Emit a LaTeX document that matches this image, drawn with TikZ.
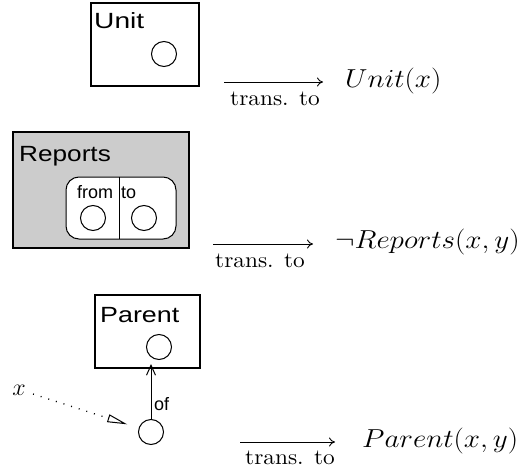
\RequirePackage{fix-cm}
\documentclass[tikz,border=0pt]{standalone}
\usepackage{fontspec}
\usepackage{graphicx}
\usetikzlibrary{arrows.meta,calc}
\newfontfamily\labelfont{Liberation Sans}
\newfontfamily\captionrm{lmroman10-regular}[Extension=.otf]
\newcommand{\biglabel}[2]{\scalebox{#1}[1]{\labelfont\fontsize{22}{26}\selectfont #2}}
\newcommand{\smalllabel}[1]{{\labelfont\fontsize{18}{21}\selectfont #1}}
\newcommand{\formula}[1]{\scalebox{1.12}[1]{\fontsize{26}{30}\selectfont $#1$}}
\newcommand{\transto}{\scalebox{1.06}[1]{\captionrm\fontsize{22}{24}\selectfont trans. to}}
\tikzset{
  entity/.style={draw, line width=1.1pt},
  role/.style={draw, circle, line width=1pt, minimum size=25pt, inner sep=0pt},
  lbl/.style={anchor=base west, inner sep=0pt},
  transarrow/.style={line width=0.9pt, -{To[length=6pt,width=9pt]}},
  translabel/.style={anchor=base west, inner sep=0pt},
}
\begin{document}
\begin{tikzpicture}[x=1pt,y=-1pt]
\useasboundingbox (0,0) rectangle (520,471);

% --- Unit ---
\draw[entity] (91,3) rectangle (199,86);
\node[lbl] (unitlbl) at (94,28) {\biglabel{1.28}{Unit}};
\node[role] (u1) at (164,54) {};
\coordinate (a1s) at (224,82);
\coordinate (a1e) at (323,82);
\draw[transarrow] (a1s) -- (a1e);
\node[translabel] (t1) at (230,105) {\transto};
\node[lbl] (f1) at (345,87) {\formula{Unit(x)}};

% --- Reports ---
\draw[entity, fill=black!20] (13,132) rectangle (189,248);
\node[lbl] (replbl) at (19,161) {\biglabel{1.19}{Reports}};
\draw[line width=1pt, fill=white, rounded corners=13pt] (66,177) rectangle (176,239);
\draw[line width=1pt] (119,177) -- (119,239);
\node[lbl] (fromlbl) at (77,198) {\smalllabel{from}};
\node[lbl] (tolbl) at (121,198) {\smalllabel{to}};
\node[role] (r1) at (93,218) {};
\node[role] (r2) at (144,218) {};
\coordinate (a2s) at (213,244);
\coordinate (a2e) at (313,244);
\draw[transarrow] (a2s) -- (a2e);
\node[translabel] (t2) at (215,267) {\transto};
\node[lbl] (f2) at (335,248) {\formula{\neg Reports(x,y)}};

% --- Parent ---
\draw[entity] (95,295) rectangle (200,368);
\coordinate (pbottom) at (151,368);
\node[lbl] (parlbl) at (100,322) {\biglabel{1.22}{Parent}};
\node[role] (p1) at (159,347) {};
\node[role] (p2) at (151,432) {};
\draw[line width=1pt, -{Straight Barb[length=10pt,width=9pt]}] (p2) -- ([yshift=4pt]pbottom);
\node[lbl] (oflbl) at (154,410) {\smalllabel{of}};
\node[anchor=base, inner sep=1pt] (xvar) at (19,395) {\fontsize{24}{28}\selectfont $x$};
% dotted reference from the variable to the role, with a hollow triangle tip
\coordinate (xs) at (33,394);
\coordinate (xtip) at ($(p2.center)!25pt!(xs)$);
\coordinate (xbase) at ($(xtip)!20pt!(xs)$);
\draw[line width=1.3pt, dash pattern=on 1pt off 7pt] (xs) -- (xbase);
\draw[line width=1pt, -{Triangle[length=20pt,width=8pt,fill=white,sep=0pt]}]
  ($(xtip)!19pt!(xs)$) -- (xtip);
\coordinate (a3s) at (240,442);
\coordinate (a3e) at (335,442);
\draw[transarrow] (a3s) -- (a3e);
\node[translabel] (t3) at (245,464) {\transto};
\node[lbl] (f3) at (362,447) {\formula{Parent(x,y)}};
\end{tikzpicture}
\end{document}
